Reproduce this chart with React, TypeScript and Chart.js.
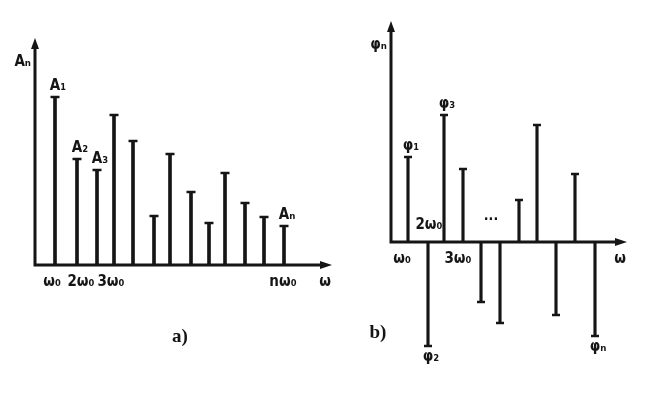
import React, { useEffect, useRef } from 'react';
import { Chart, registerables } from 'chart.js';

Chart.register(...registerables);

// ---- Data: amplitude spectrum (a) ----
const ampFreq = [1.0, 2.1, 3.1, 3.95, 4.9, 5.95, 6.75, 7.8, 8.7, 9.5, 10.5, 11.45, 12.45];
const ampValues = [16.8, 10.6, 9.5, 15.0, 12.4, 4.9, 11.1, 7.3, 4.2, 9.2, 6.2, 4.8, 3.9];
const ampLabels = ['A₁', 'A₂', 'A₃', '', '', '', '', '', '', '', '', '', 'Aₙ'];
const ampTicks = ['ω₀', '2ω₀', '3ω₀', '', '', '', '', '', '', '', '', '', 'nω₀'];

// ---- Data: phase spectrum (b) ----
const phaseFreq = [0.85, 1.85, 2.65, 3.6, 4.5, 5.45, 6.4, 7.3, 8.25, 9.2, 10.2];
const phaseValues = [8.5, -10.4, 12.7, 7.3, -6.0, -8.1, 4.2, 11.7, -7.3, 6.8, -9.4];
const phaseLabels = ['φ₁', 'φ₂', 'φ₃', '', '', '', '', '', '', '', 'φₙ'];
const phaseTicks = ['ω₀', '2ω₀', '3ω₀', '', '', '', '', '', '', '', ''];

const INK = '#151515';
const HAND = '"DejaVu Sans Condensed", "Liberation Sans Narrow", "DejaVu Sans", sans-serif';

type PanelCfg = {
  values: number[];
  freq: number[];
  labels: string[];
  ticks: string[];
  tickOffsets: { dx: number; dy: number }[];
  yTitle: string;
  caption: string;
  captionPos: { x: number; y: number };
  dots?: number;
  axisWidth: number;
};

function arrowHead(ctx: CanvasRenderingContext2D, x: number, y: number, dir: 'up' | 'right') {
  ctx.beginPath();
  if (dir === 'up') {
    ctx.moveTo(x, y - 2);
    ctx.lineTo(x - 4, y + 9);
    ctx.lineTo(x + 4, y + 9);
  } else {
    ctx.moveTo(x + 2, y);
    ctx.lineTo(x - 10, y - 4);
    ctx.lineTo(x - 10, y + 4);
  }
  ctx.closePath();
  ctx.fill();
}

function decorPlugin(cfg: PanelCfg) {
  return {
    id: 'spectrumDecor',
    afterDatasetsDraw(chart: any) {
      const ctx: CanvasRenderingContext2D = chart.ctx;
      const xs = chart.scales.x;
      const ys = chart.scales.y;
      const area = chart.chartArea;
      const x0 = xs.getPixelForValue(0);
      const y0 = ys.getPixelForValue(0);
      ctx.save();
      ctx.strokeStyle = INK;
      ctx.fillStyle = INK;
      ctx.lineWidth = cfg.axisWidth;
      ctx.lineCap = 'butt';
      // axes
      ctx.beginPath();
      ctx.moveTo(x0, y0 + 1.5);
      ctx.lineTo(x0, area.top + 6);
      ctx.moveTo(x0 - 1.5, y0);
      ctx.lineTo(area.right - 6, y0);
      ctx.stroke();
      arrowHead(ctx, x0, area.top, 'up');
      arrowHead(ctx, area.right, y0, 'right');

      // stem labels
      ctx.font = `bold 15px ${HAND}`;
      ctx.textAlign = 'center';
      cfg.labels.forEach((lab, i) => {
        if (!lab) return;
        const px = xs.getPixelForValue(cfg.freq[i]) + 3;
        const v = cfg.values[i];
        const py = ys.getPixelForValue(v);
        if (v >= 0) {
          ctx.textBaseline = 'bottom';
          ctx.fillText(lab, px, py - 3);
        } else {
          ctx.textBaseline = 'top';
          ctx.fillText(lab, px, py + 4);
        }
      });

      // tick labels
      ctx.font = `bold 15px ${HAND}`;
      ctx.textBaseline = 'middle';
      cfg.ticks.forEach((t, i) => {
        if (!t) return;
        const off = cfg.tickOffsets[i] || { dx: 0, dy: 17 };
        const px = xs.getPixelForValue(cfg.freq[i]) + off.dx;
        ctx.fillText(t, px, y0 + off.dy);
      });
      // omega at axis end
      ctx.fillText('ω', area.right - 5, y0 + 17);

      // y axis title
      ctx.textAlign = 'right';
      ctx.fillText(cfg.yTitle, x0 - 4, area.top + 22);

      // ellipsis
      if (cfg.dots !== undefined) {
        ctx.textAlign = 'center';
        ctx.font = `bold 14px ${HAND}`;
        ctx.fillText('···', xs.getPixelForValue(cfg.dots), y0 - 22);
      }

      // caption
      ctx.font = 'bold 19px "Liberation Serif", "DejaVu Serif", serif';
      ctx.textAlign = 'center';
      ctx.fillText(cfg.caption, cfg.captionPos.x, cfg.captionPos.y);
      ctx.restore();
    },
  };
}

function buildChart(
  canvas: HTMLCanvasElement,
  cfg: PanelCfg,
  xMax: number,
  yMin: number,
  yMax: number,
  padding: { left: number; right: number; top: number; bottom: number },
  stemWidth: number,
  capRadius: number
) {
  const stems = cfg.freq.map((f, i) => ({ x: f, y: cfg.values[i] }));
  return new Chart(canvas, {
    type: 'bar',
    data: {
      datasets: [
        {
          type: 'bar',
          data: stems,
          backgroundColor: INK,
          borderWidth: 0,
          barThickness: stemWidth,
          order: 2,
        } as any,
        {
          type: 'line',
          data: stems,
          showLine: false,
          pointStyle: 'line',
          pointRadius: capRadius,
          pointBorderWidth: 2.5,
          pointBorderColor: INK,
          pointBackgroundColor: INK,
          borderColor: INK,
          order: 1,
          clip: false,
        } as any,
      ],
    },
    options: {
      responsive: false,
      animation: false,
      devicePixelRatio: 1,
      layout: { padding },
      plugins: { legend: { display: false }, tooltip: { enabled: false } },
      scales: {
        x: { type: 'linear', min: 0, max: xMax, offset: false, display: false },
        y: { type: 'linear', min: yMin, max: yMax, display: false },
      },
    },
    plugins: [decorPlugin(cfg)],
  } as any);
}

export default function App() {
  const refA = useRef<HTMLCanvasElement>(null);
  const refB = useRef<HTMLCanvasElement>(null);

  useEffect(() => {
    const a = buildChart(
      refA.current!,
      {
        values: ampValues,
        freq: ampFreq,
        labels: ampLabels,
        ticks: ampTicks,
        tickOffsets: ampTicks.map((_, i) =>
          i === 0 ? { dx: -3, dy: 17 } : i === 1 ? { dx: 4, dy: 17 } : i === 2 ? { dx: 14, dy: 17 } : { dx: -1, dy: 17 }
        ),
        yTitle: 'Aₙ',
        caption: 'a)',
        captionPos: { x: 180, y: 337 },
        axisWidth: 3,
      },
      14.75,
      0,
      22.5,
      { left: 35, right: 15, top: 40, bottom: 132 },
      3,
      4.5
    );
    const b = buildChart(
      refB.current!,
      {
        values: phaseValues,
        freq: phaseFreq,
        labels: phaseLabels,
        ticks: phaseTicks,
        tickOffsets: phaseTicks.map((_, i) =>
          i === 0 ? { dx: -6, dy: 17 } : i === 1 ? { dx: 1, dy: -17 } : i === 2 ? { dx: 14, dy: 17 } : { dx: 0, dy: 17 }
        ),
        yTitle: 'φₙ',
        caption: 'b)',
        captionPos: { x: 33, y: 333 },
        dots: 5.0,
        axisWidth: 3,
      },
      11.7,
      -12,
      21.9,
      { left: 46, right: 25, top: 23, bottom: 35 },
      2.5,
      4
    );
    return () => {
      a.destroy();
      b.destroy();
    };
  }, []);

  return (
    <div style={{ position: 'fixed', left: 0, top: 0, width: 650, height: 397, background: '#ffffff' }}>
      <canvas ref={refA} width={345} height={397} style={{ position: 'absolute', left: 0, top: 0 }} />
      <canvas ref={refB} width={305} height={397} style={{ position: 'absolute', left: 345, top: 0 }} />
    </div>
  );
}
